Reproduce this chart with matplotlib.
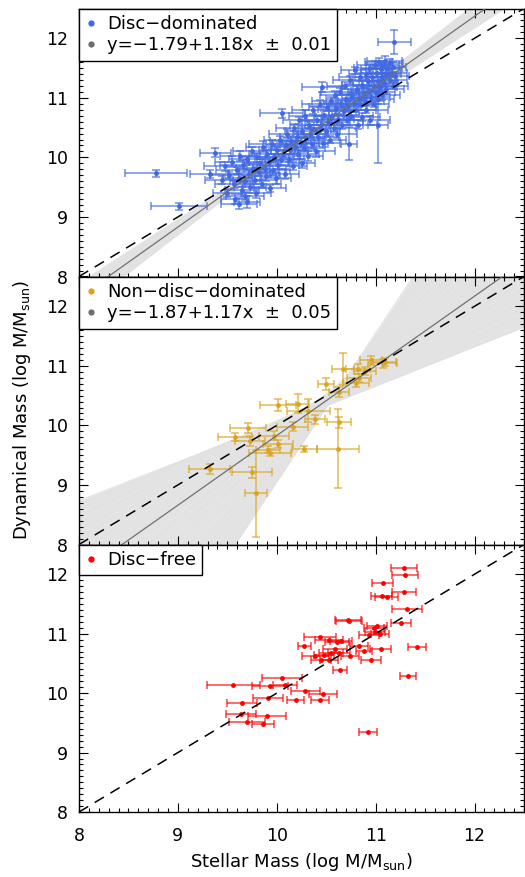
import matplotlib
matplotlib.use("Agg")
import matplotlib.pyplot as plt
from matplotlib.lines import Line2D
from matplotlib.ticker import MultipleLocator
import numpy as np

plt.rcParams['font.family'] = ['DejaVu Sans']
plt.rcParams['mathtext.fontset'] = 'dejavusans'

# ---- Disc-dominated (panel 1) ----
disc_x = [8.78, 9.01, 9.32, 9.38, 9.45, 9.48, 9.50, 9.52, 9.55, 9.57, 9.58, 9.60, 9.62, 9.62, 9.63,
          9.65, 9.66, 9.68, 9.68, 9.70, 9.70, 9.72, 9.73, 9.75, 9.76, 9.78, 9.79, 9.80, 9.82, 9.83,
          9.85, 9.86, 9.88, 9.89, 9.90, 9.92, 9.93, 9.95, 9.96, 9.97, 9.99, 10.00, 10.01, 10.03, 10.04,
          10.05, 10.06, 10.08, 10.09, 10.10, 10.12, 10.13, 10.14, 10.16, 10.17, 10.18, 10.20, 10.21, 10.22, 10.24,
          10.25, 10.26, 10.28, 10.29, 10.30, 10.32, 10.33, 10.34, 10.36, 10.37, 10.38, 10.40, 10.41, 10.42, 10.44,
          10.45, 10.46, 10.47, 10.48, 10.50, 10.51, 10.52, 10.54, 10.55, 10.56, 10.58, 10.59, 10.60, 10.61, 10.62,
          10.64, 10.65, 10.66, 10.68, 10.69, 10.70, 10.71, 10.72, 10.73, 10.74, 10.75, 10.76, 10.78, 10.79, 10.80,
          10.81, 10.82, 10.83, 10.84, 10.85, 10.86, 10.86, 10.88, 10.89, 10.90, 10.90, 10.92, 10.93, 10.94, 10.94,
          10.95, 10.96, 11.02, 10.98, 10.98, 10.99, 11.00, 11.01, 11.02, 11.02, 11.03, 11.04, 11.05, 11.06, 11.06,
          11.07, 11.08, 11.09, 11.10, 11.10, 11.19, 11.12, 11.14, 11.14, 11.16, 11.18, 11.18, 11.20]
disc_y = [9.73, 9.18, 9.72, 10.08, 9.62, 9.85, 9.40, 9.70, 9.93, 9.55, 9.30, 9.78, 9.65, 9.22, 10.02,
          9.45, 9.88, 9.60, 9.35, 9.25, 9.97, 9.72, 9.50, 10.10, 9.83, 9.62, 9.40, 10.00, 9.75, 9.90,
          9.55, 10.18, 9.80, 9.68, 10.05, 9.92, 9.48, 10.22, 9.78, 10.00, 9.65, 10.12, 9.88, 10.30, 9.95,
          10.74, 10.05, 9.72, 10.20, 10.40, 9.98, 10.12, 10.28, 9.85, 10.50, 10.18, 10.35, 10.05, 10.62, 10.25,
          9.90, 10.45, 10.15, 10.70, 10.32, 10.02, 10.55, 10.40, 10.22, 10.80, 10.48, 10.10, 10.62, 10.35, 10.90,
          10.55, 11.18, 10.25, 10.72, 10.45, 10.85, 10.60, 10.30, 10.95, 10.70, 10.50, 11.05, 10.82, 10.40, 10.65,
          11.10, 10.90, 10.55, 10.78, 11.20, 10.98, 10.62, 10.86, 10.23, 11.30, 10.70, 11.05, 10.92, 11.46, 10.80,
          11.15, 10.55, 11.00, 11.35, 10.88, 10.68, 11.22, 11.08, 10.95, 11.40, 10.80, 11.28, 11.12, 10.62, 11.50,
          11.02, 11.35, 10.54, 11.20, 10.90, 11.55, 11.10, 11.42, 11.28, 10.98, 11.60, 11.18, 11.48, 11.35, 11.05,
          11.55, 11.25, 11.62, 11.40, 11.15, 11.94, 11.50, 11.30, 11.58, 11.42, 11.20, 11.52, 11.36]
disc_xerr = [0.31, 0.28, 0.20, 0.16, 0.18, 0.22, 0.15, 0.20, 0.17, 0.19, 0.14, 0.21, 0.16, 0.18, 0.20,
             0.17, 0.23, 0.15, 0.19, 0.13, 0.18, 0.21, 0.16, 0.19, 0.17, 0.22, 0.15, 0.18, 0.20, 0.16,
             0.19, 0.17, 0.21, 0.14, 0.18, 0.20, 0.16, 0.23, 0.17, 0.19, 0.15, 0.18, 0.21, 0.16, 0.19,
             0.22, 0.17, 0.14, 0.20, 0.18, 0.16, 0.19, 0.21, 0.15, 0.18, 0.20, 0.17, 0.22, 0.16, 0.19,
             0.14, 0.18, 0.21, 0.17, 0.19, 0.15, 0.20, 0.18, 0.16, 0.22, 0.17, 0.19, 0.15, 0.21, 0.18,
             0.16, 0.20, 0.17, 0.19, 0.14, 0.18, 0.21, 0.16, 0.19, 0.17, 0.22, 0.15, 0.18, 0.20, 0.16,
             0.19, 0.17, 0.21, 0.15, 0.18, 0.20, 0.16, 0.19, 0.08, 0.17, 0.22, 0.15, 0.18, 0.14, 0.20,
             0.16, 0.19, 0.17, 0.21, 0.15, 0.18, 0.20, 0.16, 0.19, 0.17, 0.22, 0.15, 0.18, 0.20, 0.16,
             0.19, 0.17, 0.10, 0.21, 0.15, 0.18, 0.20, 0.16, 0.19, 0.17, 0.14, 0.18, 0.20, 0.16, 0.19,
             0.17, 0.15, 0.18, 0.16, 0.19, 0.17, 0.15, 0.18, 0.14, 0.16, 0.15, 0.13, 0.14]
disc_yerr = [0.06, 0.06, 0.07, 0.07, 0.06, 0.08, 0.07, 0.06, 0.09, 0.07, 0.08, 0.06, 0.07, 0.09, 0.08,
             0.06, 0.07, 0.08, 0.07, 0.10, 0.06, 0.07, 0.09, 0.08, 0.06, 0.07, 0.08, 0.07, 0.06, 0.08,
             0.07, 0.09, 0.06, 0.07, 0.08, 0.07, 0.06, 0.08, 0.07, 0.06, 0.09, 0.07, 0.08, 0.06, 0.07,
             0.08, 0.06, 0.09, 0.07, 0.08, 0.06, 0.07, 0.08, 0.07, 0.06, 0.09, 0.07, 0.08, 0.06, 0.07,
             0.08, 0.07, 0.06, 0.09, 0.07, 0.08, 0.06, 0.07, 0.08, 0.07, 0.06, 0.09, 0.07, 0.08, 0.06,
             0.07, 0.08, 0.07, 0.06, 0.09, 0.07, 0.08, 0.06, 0.07, 0.08, 0.07, 0.06, 0.09, 0.07, 0.08,
             0.06, 0.07, 0.08, 0.07, 0.06, 0.09, 0.07, 0.08, 0.28, 0.06, 0.07, 0.08, 0.07, 0.06, 0.09,
             0.07, 0.08, 0.06, 0.07, 0.08, 0.07, 0.06, 0.09, 0.07, 0.08, 0.06, 0.07, 0.08, 0.07, 0.06,
             0.09, 0.07, 0.64, 0.08, 0.06, 0.07, 0.08, 0.07, 0.06, 0.09, 0.07, 0.08, 0.06, 0.07, 0.08,
             0.07, 0.06, 0.09, 0.07, 0.08, 0.20, 0.06, 0.07, 0.08, 0.07, 0.06, 0.09, 0.07]
disc_fit = (-1.79, 1.18, 0.01)
disc_boot_a = [-0.70, -0.821, -1.025, -1.229, -1.433, -1.637, -1.790, -1.943, -2.147, -2.351, -2.555,
               -2.759, -2.88]
disc_boot_b = [1.073, 1.085, 1.105, 1.125, 1.145, 1.165, 1.180, 1.195, 1.215, 1.235, 1.255,
               1.275, 1.287]

# ---- Non-disc-dominated (panel 2) ----
nond_x = [9.32, 9.75, 9.79, 9.58, 9.71, 9.73, 9.97, 10.01, 9.91, 9.93, 10.16, 10.01, 10.21, 10.32,
          10.39, 10.28, 10.62, 10.63, 10.50, 10.63, 10.67, 10.80, 10.82, 10.89, 10.95, 11.07, 11.09, 10.83]
nond_y = [9.27, 9.21, 8.86, 9.81, 9.96, 9.74, 9.83, 9.69, 9.59, 9.54, 9.98, 10.35, 10.36, 10.25,
          10.10, 9.60, 9.61, 10.05, 10.69, 10.56, 10.94, 10.72, 10.95, 10.91, 11.09, 11.04, 11.06, 10.80]
nond_xerr = [0.21, 0.20, 0.11, 0.17, 0.18, 0.15, 0.15, 0.15, 0.12, 0.21, 0.16, 0.18, 0.12, 0.22,
             0.10, 0.13, 0.21, 0.12, 0.08, 0.10, 0.11, 0.13, 0.12, 0.11, 0.11, 0.15, 0.12, 0.12]
nond_yerr = [0.08, 0.09, 0.73, 0.07, 0.08, 0.08, 0.07, 0.07, 0.06, 0.06, 0.07, 0.10, 0.16, 0.20,
             0.07, 0.05, 0.66, 0.09, 0.10, 0.08, 0.27, 0.07, 0.08, 0.07, 0.08, 0.07, 0.07, 0.07]
nond_fit = (-1.87, 1.17, 0.05)
nond_boot_a = [3.535, 3.40, 3.25, 3.07, 2.80, 2.575, 2.30, 2.06, 1.555, 1.04, 0.525, 0.0, -0.525,
               -1.04, -1.565, -2.08, -2.605, -3.12, -4.18, -5.25, -6.32, -7.925, -9.53, -10.60,
               -11.67, -12.75, -13.82, -14.90, -15.95]
nond_boot_b = [0.65, 0.66, 0.68, 0.70, 0.725, 0.75, 0.775, 0.80, 0.85, 0.90, 0.95, 1.00, 1.05,
               1.10, 1.15, 1.20, 1.25, 1.30, 1.40, 1.50, 1.60, 1.75, 1.90, 2.00,
               2.10, 2.20, 2.30, 2.40, 2.50]

# ---- Disc-free (panel 3) ----
free_x = [11.29, 11.30, 11.07, 11.29, 11.06, 11.11, 11.32, 10.72, 10.73, 11.26, 11.01, 10.98, 10.93,
          11.04, 10.99, 10.44, 10.53, 10.61, 10.65, 10.28, 10.83, 11.42, 11.05, 10.59, 10.88, 10.39,
          10.48, 10.55, 10.63, 10.74, 10.45, 10.53, 10.95, 10.64, 11.33, 10.05, 9.56, 9.93, 10.08,
          10.29, 10.47, 9.91, 10.19, 10.44, 9.65, 9.64, 9.90, 9.70, 9.86, 10.92]
free_y = [12.11, 11.99, 11.86, 11.70, 11.63, 11.61, 11.41, 11.23, 11.22, 11.18, 11.13, 11.09, 10.98,
          10.99, 11.02, 10.95, 10.90, 10.86, 10.87, 10.79, 10.80, 10.78, 10.75, 10.75, 10.71, 10.63,
          10.64, 10.68, 10.67, 10.62, 10.55, 10.55, 10.55, 10.39, 10.28, 10.25, 10.13, 10.12, 10.13,
          10.03, 9.99, 9.92, 9.88, 9.88, 9.84, 9.65, 9.62, 9.51, 9.48, 9.34]
free_xerr = [0.13, 0.13, 0.11, 0.12, 0.11, 0.12, 0.15, 0.13, 0.13, 0.10, 0.10, 0.10, 0.10,
             0.09, 0.10, 0.16, 0.14, 0.12, 0.11, 0.07, 0.09, 0.09, 0.11, 0.12, 0.08, 0.14,
             0.10, 0.12, 0.11, 0.09, 0.10, 0.09, 0.10, 0.07, 0.08, 0.20, 0.27, 0.18, 0.12,
             0.15, 0.14, 0.15, 0.09, 0.09, 0.15, 0.15, 0.19, 0.18, 0.11, 0.09]

xlim = (8.0, 12.5)
ylim = (8.0, 12.5)

W, H = 525, 877
fig = plt.figure(figsize=(W / 100, H / 100), dpi=100)
left, right = 79 / W, 524 / W
tops = [8.5, 276.5, 544.5]
bottoms = [276.5, 544.5, 812.0]
axes = []
for t, b in zip(tops, bottoms):
    ax = fig.add_axes([left, 1 - b / H, right - left, (b - t) / H])
    axes.append(ax)

xx = np.array(xlim)


def style(ax, show_x):
    ax.set_xlim(*xlim)
    ax.set_ylim(*ylim)
    ax.xaxis.set_major_locator(MultipleLocator(1))
    ax.xaxis.set_minor_locator(MultipleLocator(0.1))
    ax.yaxis.set_major_locator(MultipleLocator(1))
    ax.yaxis.set_minor_locator(MultipleLocator(0.1))
    ax.tick_params(which='both', direction='in', top=True, right=True, color='black', width=0.8)
    ax.tick_params(which='major', length=6.5)
    ax.tick_params(which='minor', length=3)
    ax.tick_params(axis='y', labelsize=12.5, pad=8)
    ax.tick_params(axis='x', labelsize=12.5, pad=11, labelbottom=show_x)
    for s in ax.spines.values():
        s.set_linewidth(1.0)


def band(ax, a_list, b_list):
    xs = np.linspace(xlim[0], xlim[1], 200)
    ys = np.array([a + b * xs for a, b in zip(a_list, b_list)])
    ax.fill_between(xs, ys.min(axis=0), ys.max(axis=0), color='#e4e4e4', lw=0, zorder=1)
    for a, b in zip(a_list, b_list):
        ax.plot(xx, a + b * xx, color='#e2e2e2', lw=0.8, zorder=1)


def points(ax, x, y, xe, ye, col):
    ax.errorbar(x, y, xerr=xe, yerr=ye, fmt='none', ecolor=col, elinewidth=1.1,
                capsize=3, capthick=1.1, alpha=0.75, zorder=3)
    ax.plot(x, y, 'o', color=col, ms=3.5, mew=0, zorder=4)


def legend(ax, col, label, fit=None):
    handles = [Line2D([], [], marker='o', ls='none', color=col, ms=4.5, mew=0)]
    labels = [label]
    if fit is not None:
        handles.append(Line2D([], [], marker='o', ls='none', color='#6e6e6e', ms=4.5, mew=0))
        labels.append('y=\u2212%.2f+%.2fx  \u00b1  %.2f' % (-fit[0], fit[1], fit[2]))
    lg = ax.legend(handles, labels, loc='upper left', borderaxespad=0, fontsize=13,
                   frameon=True, fancybox=False, edgecolor='black', framealpha=1,
                   handlelength=0.6, handletextpad=0.6, labelspacing=0.2,
                   borderpad=0.35)
    lg.get_frame().set_linewidth(1.0)
    lg.set_zorder(10)


def one_to_one(ax):
    ax.plot(xx, xx, color='black', lw=1.1, dashes=(7, 5), zorder=6)


# panel 1
ax = axes[0]
band(ax, disc_boot_a, disc_boot_b)
points(ax, disc_x, disc_y, disc_xerr, disc_yerr, '#4169e1')
ax.plot(xx, disc_fit[0] + disc_fit[1] * xx, color='#707070', lw=0.9, zorder=5)
one_to_one(ax)
legend(ax, '#4169e1', 'Disc\u2212dominated', disc_fit)
style(ax, False)

# panel 2
ax = axes[1]
band(ax, nond_boot_a, nond_boot_b)
points(ax, nond_x, nond_y, nond_xerr, nond_yerr, '#daa520')
ax.plot(xx, nond_fit[0] + nond_fit[1] * xx, color='#707070', lw=0.9, zorder=5)
one_to_one(ax)
legend(ax, '#daa520', 'Non\u2212disc\u2212dominated', nond_fit)
style(ax, False)

# panel 3
ax = axes[2]
ax.errorbar(free_x, free_y, xerr=free_xerr, fmt='none', ecolor='red', elinewidth=1.1,
            capsize=3, capthick=1.1, alpha=0.75, zorder=3)
ax.plot(free_x, free_y, 'o', color='red', ms=3.5, mew=0, zorder=4)
one_to_one(ax)
legend(ax, 'red', 'Disc\u2212free')
style(ax, True)
ax.set_xlabel(r'Stellar Mass (log M/M$_{\mathrm{sun}}$)', fontsize=13, labelpad=4)

fig.text(22 / W, 1 - 410 / H, r'Dynamical Mass (log M/M$_{\mathrm{sun}}$)', rotation=90,
         ha='center', va='center', fontsize=13)

fig.savefig('out.png', dpi=100)
